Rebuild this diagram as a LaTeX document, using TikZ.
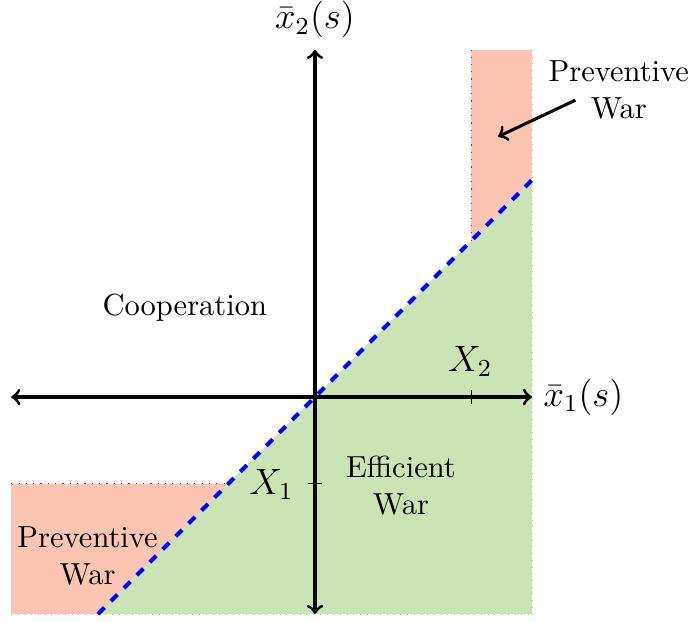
\documentclass[tikz,border=0pt]{standalone}
\usetikzlibrary{arrows}
\definecolor{warred}{RGB}{252,196,178}
\definecolor{wargreen}{RGB}{203,228,182}
\tikzset{
  axis/.style={line width=1pt,<->},
  tickmark/.style={thin},
  border/.style={red,dotted},
  lbl/.style={align=center,font=\normalsize},
}
\begin{document}
\begin{tikzpicture}
\useasboundingbox (-3.629,-2.592) rectangle (4.332,4.574);
% regions
\fill[wargreen] (-2.5,-2.5) -- (2.5,-2.5) -- (2.5,2.5) -- cycle;
\fill[warred] (1.8,1.8) -- (1.8,4) -- (2.5,4) -- (2.5,2.5) -- cycle;
\fill[warred] (-3.5,-1) -- (-1,-1) -- (-2.5,-2.5) -- (-3.5,-2.5) -- cycle;
\coordinate (ra) at (1.8,1.8);
\coordinate (rb) at (1.8,4);
\coordinate (la) at (-3.5,-1);
\coordinate (lb) at (-1,-1);
\draw[border] (ra) -- (rb);
\draw[border] (la) -- (lb);
\draw[wargreen!85!black,dotted,very thin] (-3.5,-2.5) -- (2.5,-2.5);
\draw[warred!90!black,dotted,very thin] (2.5,4) -- (2.5,-2.5);
% diagonal
\coordinate (d1) at (-2.5,-2.5);
\coordinate (d2) at (2.5,2.5);
\draw[blue,dashed,line width=1.3pt] (d1) -- (d2);
% axes
\coordinate (xl) at (-3.5,0);
\coordinate (xr) at (2.5,0);
\coordinate (yb) at (0,-2.5);
\coordinate (yt) at (0,4);
\draw[axis] (xl) -- (xr) node[right,font=\large] (xlab) {$\bar{x}_1(s)$};
\draw[axis] (yb) -- (yt) node[above,font=\large] (ylab) {$\bar{x}_2(s)$};
% ticks
\coordinate (t2a) at (1.8,-0.08);
\coordinate (t2b) at (1.8,0.08);
\coordinate (t1a) at (-0.08,-1);
\coordinate (t1b) at (0.08,-1);
\draw[tickmark] (t2a) -- (t2b);
\draw[tickmark] (t1a) -- (t1b);
\node[font=\large] (X2) at (1.79,0.41) {$X_2$};
\node[font=\large] (X1) at (-0.5,-1.01) {$X_1$};
% labels
\node[lbl] (coop) at (-1.5,1.03) {Cooperation};
\node[lbl] (eff) at (0.99,-1.02) {Efficient\\War};
\node[lbl] (pw1) at (-2.62,-1.83) {Preventive\\War};
\node[lbl] (pw2) at (3.5,3.54) {Preventive\\War};
\coordinate (arrtip) at (2.11,3.0);
\coordinate (arrtail) at (3.0,3.42);
\draw[line width=1pt,->] (arrtail) -- (arrtip);
\end{tikzpicture}
\end{document}
